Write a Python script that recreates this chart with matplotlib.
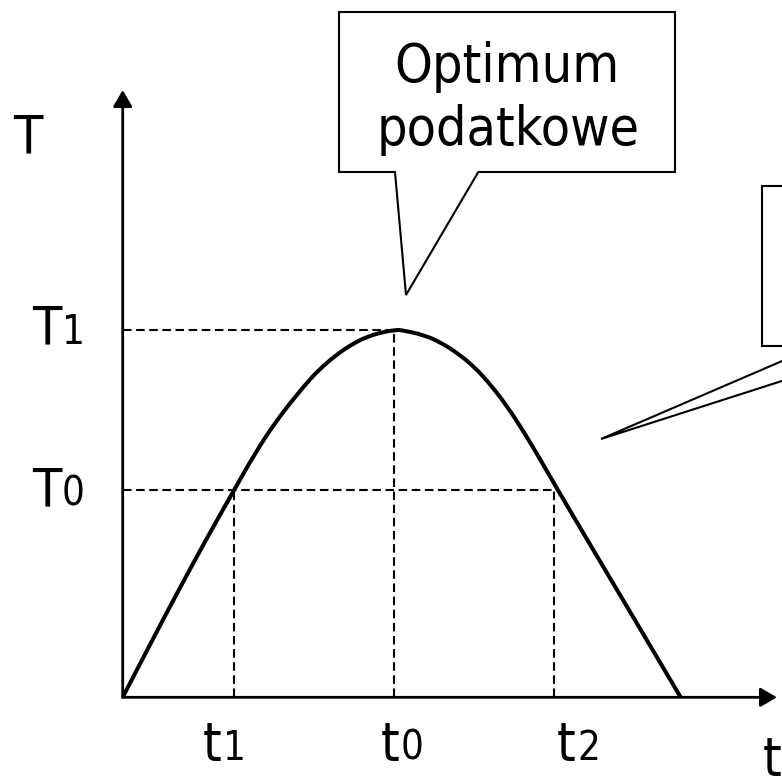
import matplotlib
matplotlib.use("Agg")
import matplotlib.pyplot as plt
from matplotlib.patches import Polygon, PathPatch
from matplotlib.path import Path

# ---------------- data ----------------
# tax rate t (0..100) and tax revenue T (T1 = 100)
curve_t = [0.0, 5.0, 10.0, 15.0, 19.95, 23.7, 27.6, 32.4, 35.1, 38.4, 41.3, 43.7,
           46.7, 49.1, 49.8, 53.9, 57.0, 60.0, 63.0, 66.0, 69.0, 72.0, 75.0,
           77.8, 83.4, 89.0, 94.5, 100.0]
curve_T = [0.0, 14.7, 29.1, 43.1, 56.4, 66.4, 75.5, 84.6, 89.1, 93.4, 96.3, 98.1,
           99.5, 100.0, 100.0, 98.7, 96.6, 93.7, 90.0, 85.0, 79.0, 72.0, 64.3,
           56.9, 42.5, 28.2, 14.1, 0.0]
t_ticks = [20.0, 48.6, 77.3]           # t1, t0, t2
t_tick_labels = [("t", "1"), ("t", "0"), ("t", "2")]
T_levels = [56.4, 100.0]                # T0, T1
T_level_labels = [("T", "0"), ("T", "1")]
x_axis_label = "t"
y_axis_label = "T"
callout_text = "Optimum\npodatkowe"

# ---------------- figure ----------------
W, H = 782, 776
fig = plt.figure(figsize=(W / 100, H / 100), dpi=100)

x0_px, y0_px = 122.7, 697.3
px_per_t, px_per_T = 5.58, 3.673
ax = fig.add_axes([0, 0, 1, 1])
ax.set_xlim(-x0_px / px_per_t, (W - x0_px) / px_per_t)
ax.set_ylim(-(H - y0_px) / px_per_T, y0_px / px_per_T)
ax.axis("off")

# pixel layer for annotations / labels
lay = fig.add_axes([0, 0, 1, 1])
lay.set_xlim(0, W)
lay.set_ylim(H, 0)
lay.axis("off")

FONT = dict(family="DejaVu Sans", stretch="condensed")
BIG = 38.5
SUB = 28.8

# axes with arrows
x_end = (777 - x0_px) / px_per_t
y_end = (y0_px - 90) / px_per_T
arrow_kw = dict(arrowstyle="-|>,head_length=10,head_width=5.8", lw=2.0, color="black",
                shrinkA=0, shrinkB=0, mutation_scale=1)
ax.annotate("", xy=(x_end, 0), xytext=(0, 0), arrowprops=arrow_kw)
ax.annotate("", xy=(0, y_end), xytext=(0, 0), arrowprops=arrow_kw)

# dashed guides
dash = (0, (4.1, 2.2))
t1, t0, t2 = t_ticks
T0, T1 = T_levels
ax.plot([0, t0], [T1, T1], color="black", lw=1.5, ls=dash)
ax.plot([t0, t0], [0, T1], color="black", lw=1.5, ls=dash)
ax.plot([0, t2], [T0, T0], color="black", lw=1.5, ls=dash)
ax.plot([t1, t1], [0, T0], color="black", lw=1.5, ls=dash)
ax.plot([t2, t2], [0, T0], color="black", lw=1.5, ls=dash)

# Laffer curve: read points rendered as a smooth quadratic B-spline path
pts = list(zip(curve_t, curve_T))
verts = [pts[0]]
codes = [Path.MOVETO]
n = len(pts)
for i in range(1, n - 1):
    if i < n - 2:
        end = ((pts[i][0] + pts[i + 1][0]) / 2, (pts[i][1] + pts[i + 1][1]) / 2)
    else:
        end = pts[n - 1]
    verts += [pts[i], end]
    codes += [Path.CURVE3, Path.CURVE3]
ax.add_patch(PathPatch(Path(verts, codes), fc="none", ec="black", lw=2.9,
                       capstyle="butt", joinstyle="round"))

# callout 1
c1 = Polygon([(339, 12), (675, 12), (675, 172), (478.3, 172), (406, 295),
              (395, 172), (339, 172)], closed=True, fc="white", ec="black",
             lw=1.5, joinstyle="miter")
lay.add_patch(c1)
lines = callout_text.split("\n")
lay.text(507, 82, lines[0], ha="center", va="baseline", fontsize=BIG, **FONT)
lay.text(508, 145, lines[1], ha="center", va="baseline", fontsize=BIG, **FONT)

# callout 2 (cut off at the right edge)
c2 = Polygon([(762, 186), (920, 186), (920, 346), (891, 346), (601, 439),
              (817, 346), (762, 346)], closed=True, fc="white", ec="black",
             lw=1.5, joinstyle="miter")
lay.add_patch(c2)

# labels with same-baseline smaller index
def sub_label(x_split, y_base, pair):
    lay.text(x_split, y_base, pair[0], ha="right", va="baseline", fontsize=BIG, **FONT)
    lay.text(x_split + 1, y_base, pair[1], ha="left", va="baseline", fontsize=SUB, **FONT)

lay.text(13, 153, y_axis_label, ha="left", va="baseline", fontsize=BIG, **FONT)
sub_label(61, 506, T_level_labels[0])
sub_label(61, 344, T_level_labels[1])
for xs, lab in zip([222, 400, 576], t_tick_labels):
    sub_label(xs, 760, lab)
lay.text(763, 775, x_axis_label, ha="left", va="baseline", fontsize=BIG, **FONT)

fig.savefig("out.png", dpi=100)
